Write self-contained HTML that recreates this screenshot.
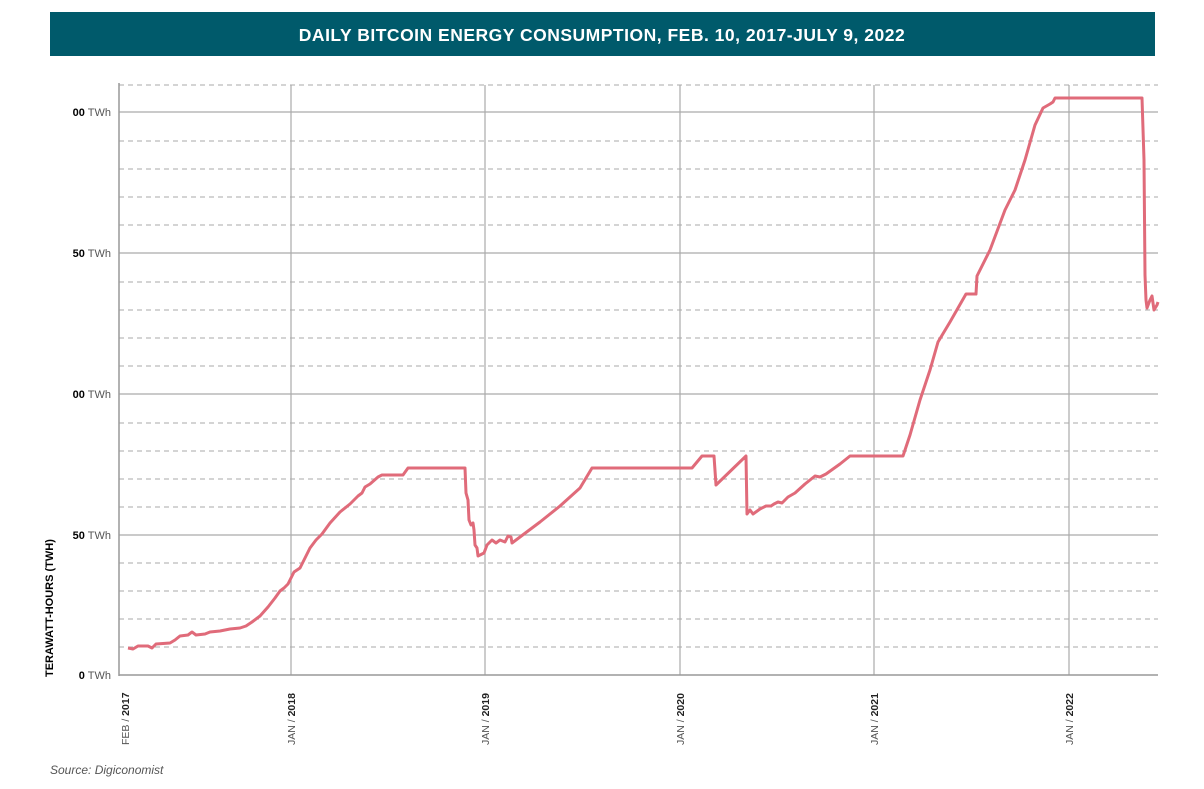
<!DOCTYPE html>
<html><head><meta charset="utf-8"><style>
body{margin:0;background:#fff;width:1204px;height:784px;overflow:hidden;font-family:"Liberation Sans",sans-serif}
</style></head><body>
<svg width="1204" height="784" xmlns="http://www.w3.org/2000/svg" font-family="Liberation Sans, sans-serif">
<rect x="50" y="12" width="1105" height="44" fill="#005a6b"/>
<text x="602" y="41" fill="#fff" font-size="17.5" font-weight="bold" text-anchor="middle" letter-spacing="0.5">DAILY BITCOIN ENERGY CONSUMPTION, FEB. 10, 2017-JULY 9, 2022</text>
<g stroke="#aaa" stroke-width="1" stroke-dasharray="5,4">
<line x1="119" x2="1158" y1="85" y2="85"/>
<line x1="119" x2="1158" y1="141" y2="141"/><line x1="119" x2="1158" y1="169" y2="169"/><line x1="119" x2="1158" y1="197" y2="197"/><line x1="119" x2="1158" y1="225" y2="225"/>
<line x1="119" x2="1158" y1="282" y2="282"/><line x1="119" x2="1158" y1="310" y2="310"/><line x1="119" x2="1158" y1="338" y2="338"/><line x1="119" x2="1158" y1="366" y2="366"/>
<line x1="119" x2="1158" y1="423" y2="423"/><line x1="119" x2="1158" y1="451" y2="451"/><line x1="119" x2="1158" y1="479" y2="479"/><line x1="119" x2="1158" y1="507" y2="507"/>
<line x1="119" x2="1158" y1="563" y2="563"/><line x1="119" x2="1158" y1="591" y2="591"/><line x1="119" x2="1158" y1="619" y2="619"/><line x1="119" x2="1158" y1="647" y2="647"/>
</g>
<g stroke="#aaa" stroke-width="1.2">
<line x1="119" x2="1158" y1="112" y2="112"/><line x1="119" x2="1158" y1="253" y2="253"/><line x1="119" x2="1158" y1="394" y2="394"/><line x1="119" x2="1158" y1="535" y2="535"/>
<line x1="291" x2="291" y1="85" y2="675"/><line x1="485" x2="485" y1="85" y2="675"/><line x1="680" x2="680" y1="85" y2="675"/><line x1="874" x2="874" y1="85" y2="675"/><line x1="1069" x2="1069" y1="85" y2="675"/>
</g>
<line x1="119" x2="119" y1="83" y2="676" stroke="#999" stroke-width="1.5"/>
<line x1="119" x2="1158" y1="675" y2="675" stroke="#999" stroke-width="1.5"/>
<g font-size="11" text-anchor="end">
<text x="111" y="116"><tspan font-weight="bold">00</tspan><tspan fill="#555"> TWh</tspan></text>
<text x="111" y="257"><tspan font-weight="bold">50</tspan><tspan fill="#555"> TWh</tspan></text>
<text x="111" y="398"><tspan font-weight="bold">00</tspan><tspan fill="#555"> TWh</tspan></text>
<text x="111" y="539"><tspan font-weight="bold">50</tspan><tspan fill="#555"> TWh</tspan></text>
<text x="111" y="679"><tspan font-weight="bold">0</tspan><tspan fill="#555"> TWh</tspan></text>
</g>
<text transform="translate(53,677) rotate(-90)" font-size="11" font-weight="bold">TERAWATT-HOURS (TWH)</text>
<g font-size="10.5" fill="#555">
<text transform="translate(129,745) rotate(-90)">FEB / <tspan font-weight="bold" fill="#222">2017</tspan></text>
<text transform="translate(295,745) rotate(-90)">JAN / <tspan font-weight="bold" fill="#222">2018</tspan></text>
<text transform="translate(489,745) rotate(-90)">JAN / <tspan font-weight="bold" fill="#222">2019</tspan></text>
<text transform="translate(684,745) rotate(-90)">JAN / <tspan font-weight="bold" fill="#222">2020</tspan></text>
<text transform="translate(878,745) rotate(-90)">JAN / <tspan font-weight="bold" fill="#222">2021</tspan></text>
<text transform="translate(1073,745) rotate(-90)">JAN / <tspan font-weight="bold" fill="#222">2022</tspan></text>
</g>
<text x="50" y="774" font-size="12" font-style="italic" fill="#555">Source: Digiconomist</text>
<polyline fill="none" stroke="#e06b7a" stroke-width="3" stroke-linejoin="round" points="128,648 133,649 138,646 148,646 152,648 156,644 170,643 175,640 180,636 188,635 192,632 196,635 205,634 210,632 220,631 230,629 240,628 246,626 252,622 260,616 268,607 275,598 280,591 284,588 288,584 292,576 294,572 297,570 300,568 305,558 310,548 316,540 322,534 330,523 340,512 350,504 358,496 362,493 365,487 370,484 378,477 382,475 403,475 408,468 465,468 466,493 468,500 469,520 471,525 473,523 474,530 475,545 477,548 478,556 480,555 484,553 487,545 492,540 496,543 500,540 505,542 508,536 511,537 512,543 520,537 540,522 560,506 580,488 592,468 692,468 702,456 714,456 716,485 746,456 747,514 750,510 753,514 760,509 766,506 771,506 774,504 778,502 782,503 788,497 795,493 805,484 815,476 820,477 826,474 840,464 850,456 903,456 910,435 920,400 930,370 938,342 950,322 958,308 962,301 966,294 976,294 977,276 990,250 1005,210 1015,190 1025,160 1035,125 1043,108 1050,104 1053,102 1055,98 1142,98 1144,160 1145,275 1146,300 1147,308 1150,300 1152,296 1154,310 1157,305 1158,302"/>
</svg>
</body></html>
